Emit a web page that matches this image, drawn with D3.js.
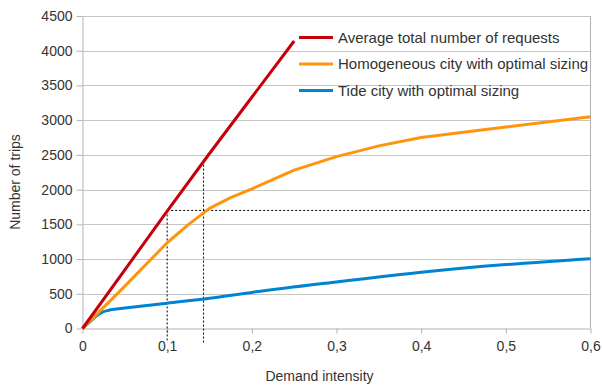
<!DOCTYPE html>
<meta charset="utf-8">
<style>
* { margin: 0; padding: 0; }
body { background: #fff; }
svg { display: block; font-family: "Liberation Sans", Arial, sans-serif; }
.tick text { fill: #333; font-size: 14px; }
.axis path, .axis line { stroke: #b3b3b3; }
.grid line { stroke: #c6c6c6; }
.title { fill: #333; font-size: 14px; }
.legend text { fill: #333; font-size: 15px; }
</style>
<body>
<script src="https://cdn.jsdelivr.net/npm/d3@7"></script>
<script>

var xTicks = [0, 0.1, 0.2, 0.3, 0.4, 0.5, 0.6];
var yTicks = [0, 500, 1000, 1500, 2000, 2500, 3000, 3500, 4000, 4500];

var seriesNames = [
	"Average total number of requests",
	"Homogeneous city with optimal sizing",
	"Tide city with optimal sizing"
];
var seriesColors = ["#c5000b", "#ff950e", "#0084d1"];

// demand intensity -> trips
var requests = [[0, 0], [0.05, 845], [0.1, 1690], [0.15, 2520], [0.2, 3330], [0.25, 4140]];
var homogeneous = [[0, 0], [0.05, 610], [0.1, 1235], [0.125, 1495], [0.15, 1730], [0.175, 1885],
	[0.2, 2010], [0.25, 2280], [0.3, 2475], [0.35, 2630], [0.4, 2750], [0.5, 2900], [0.6, 3050]];
var tide = [[0, 0], [0.01, 110], [0.017, 185], [0.023, 232], [0.03, 260], [0.04, 280],
	[0.05, 295], [0.1, 365], [0.15, 435], [0.2, 520], [0.3, 670], [0.4, 810], [0.5, 920], [0.6, 1005]];

// dotted guides: request level at 0.1 and where the homogeneous city reaches it
var guideLevel = 1700;
var guideX = [0.1, 0.143];
var guideTop = [1700, 2360];

var width = 602,
    height = 389;

var svg = d3.select("body").append("svg")
	.attr("width", width)
	.attr("height", height);

var x = d3.scaleLinear().domain([0, 0.6]).range([82.5, 590.5]);
var y = d3.scaleLinear().domain([0, 4500]).range([328.5, 16]);

var fmt = function(d) { return d === 0 ? "0" : d3.format(".1f")(d).replace(".", ","); };

// grid
svg.append("g")
	.attr("class", "grid")
	.selectAll("line")
	.data(yTicks.slice(1))
	.enter().append("line")
	.attr("x1", x(0)).attr("x2", x(0.6))
	.attr("y1", function(d) { return Math.round(y(d)) + 0.5; })
	.attr("y2", function(d) { return Math.round(y(d)) + 0.5; });

// right border
svg.append("line")
	.attr("x1", x(0.6)).attr("x2", x(0.6))
	.attr("y1", y(4500)).attr("y2", y(0))
	.attr("stroke", "#b3b3b3");

svg.append("g")
	.attr("class", "axis")
	.attr("transform", "translate(" + x(0) + ",0)")
	.call(d3.axisLeft(y).tickValues(yTicks).tickFormat(d3.format("d")).tickSize(6).tickPadding(4).tickSizeOuter(0));

svg.append("g")
	.attr("class", "axis")
	.attr("transform", "translate(0," + y(0) + ")")
	.call(d3.axisBottom(x).tickValues(xTicks).tickFormat(fmt).tickSize(5).tickPadding(8).tickSizeOuter(0));

svg.selectAll(".axis text").attr("font-family", null).attr("font-size", null);

// dotted guides
var guides = svg.append("g")
	.attr("fill", "none")
	.attr("stroke", "#000")
	.attr("stroke-width", 1)
	.attr("stroke-dasharray", "2,2");

guides.append("line")
	.attr("x1", x(guideX[0])).attr("x2", x(0.6))
	.attr("y1", y(guideLevel)).attr("y2", y(guideLevel));

guideX.forEach(function(gx, i) {
	guides.append("line")
		.attr("x1", x(gx)).attr("x2", x(gx))
		.attr("y1", y(guideTop[i])).attr("y2", y(0) + 14);
});

var smooth = d3.line()
	.x(function(d) { return x(d[0]); })
	.y(function(d) { return y(d[1]); })
	.curve(d3.curveMonotoneX);

var straight = d3.line()
	.x(function(d) { return x(d[0]); })
	.y(function(d) { return y(d[1]); });

[[tide, 2, smooth], [homogeneous, 1, straight], [requests, 0, straight]].forEach(function(s) {
	svg.append("path")
		.datum(s[0])
		.attr("fill", "none")
		.attr("stroke", seriesColors[s[1]])
		.attr("stroke-width", 3)
		.attr("stroke-linejoin", "round")
		.attr("d", s[2]);
});

// legend
var legend = svg.append("g").attr("class", "legend");
seriesNames.forEach(function(name, i) {
	var ly = 37.5 + i * 26.5;
	legend.append("line")
		.attr("x1", 299).attr("x2", 333)
		.attr("y1", ly).attr("y2", ly)
		.attr("stroke", seriesColors[i])
		.attr("stroke-width", 3);
	legend.append("text")
		.attr("x", 338)
		.attr("y", ly)
		.attr("dy", "0.35em")
		.text(name);
});

// axis titles
svg.append("text")
	.attr("class", "title")
	.attr("x", (x(0) + x(0.6)) / 2 - 17)
	.attr("y", 381)
	.attr("text-anchor", "middle")
	.text("Demand intensity");

svg.append("text")
	.attr("class", "title")
	.attr("transform", "translate(20,182) rotate(-90)")
	.attr("text-anchor", "middle")
	.text("Number of trips");

</script>
